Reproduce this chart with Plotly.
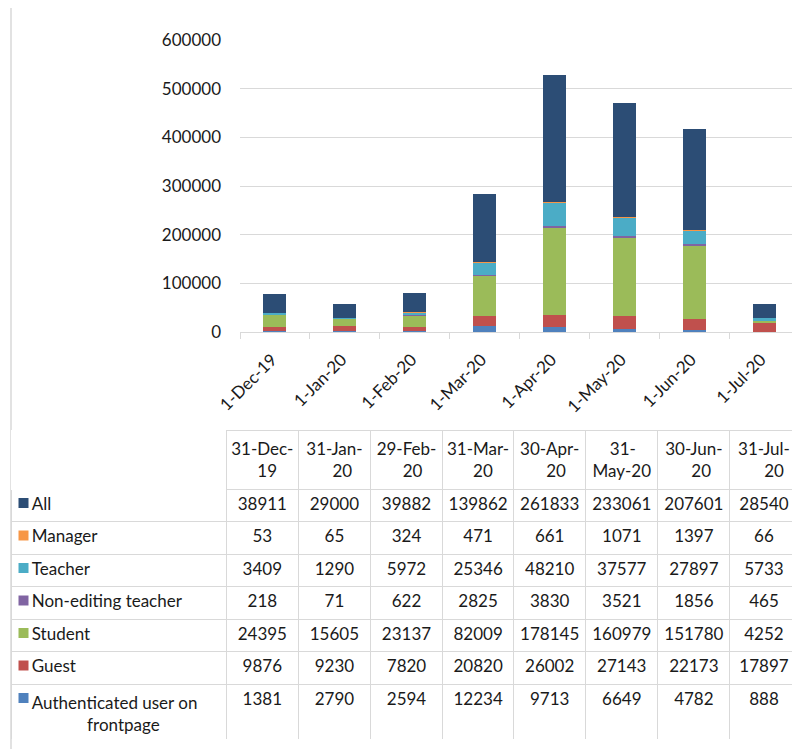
import plotly.graph_objects as go

# axis categories (month starts) and table column headers (month ends)
months = ["1-Dec-19", "1-Jan-20", "1-Feb-20", "1-Mar-20",
          "1-Apr-20", "1-May-20", "1-Jun-20", "1-Jul-20"]
period_ends = ["31-Dec-<br>19", "31-Jan-<br>20", "29-Feb-<br>20", "31-Mar-<br>20",
               "30-Apr-<br>20", "31-<br>May-20", "30-Jun-<br>20", "31-Jul-<br>20"]

# series, bottom of the stack first
authenticated = [1381, 2790, 2594, 12234, 9713, 6649, 4782, 888]
guest = [9876, 9230, 7820, 20820, 26002, 27143, 22173, 17897]
student = [24395, 15605, 23137, 82009, 178145, 160979, 151780, 4252]
non_editing = [218, 71, 622, 2825, 3830, 3521, 1856, 465]
teacher = [3409, 1290, 5972, 25346, 48210, 37577, 27897, 5733]
manager = [53, 65, 324, 471, 661, 1071, 1397, 66]
all_users = [38911, 29000, 39882, 139862, 261833, 233061, 207601, 28540]

stack = [
    ("Authenticated user on frontpage", authenticated, "#4F81BD"),
    ("Guest", guest, "#C0504D"),
    ("Student", student, "#9BBB59"),
    ("Non-editing teacher", non_editing, "#8064A2"),
    ("Teacher", teacher, "#4BACC6"),
    ("Manager", manager, "#F79646"),
    ("All", all_users, "#2C4D75"),
]

# the page body has an 8px margin, so the figure is drawn 8px smaller
# and positions below are given in window pixels
PAGE_W, PAGE_H, BODY = 800, 749, 8
W, H = PAGE_W - BODY, PAGE_H - BODY


def px(x):
    return (x - BODY) / W


def py(y):
    return (PAGE_H - y) / H


FONT = "Lato, 'Open Sans', sans-serif"
GRID = "#d9d9d9"
TXT = "#1a1a1a"
NB = "\u00a0"
EM = "\u2003"


def centre_lines(label):
    # table lines are left aligned inside the block; pad the shorter one
    a, b = label.split("<br>")
    pad = NB * round(abs(len(a) - len(b)) * 1.25)
    return a + "<br>" + pad + b if len(a) > len(b) else pad + a + "<br>" + b


fig = go.Figure()

for name, vals, color in stack:
    fig.add_trace(go.Bar(
        x=months, y=vals, name=name,
        marker=dict(color=color, line=dict(width=0)),
        showlegend=False,
    ))

# data table, rows top to bottom as in the chart
rows = list(reversed(stack))
row_labels = []
for name, _, _ in rows:
    if name.startswith("Authenticated"):
        row_labels.append("Authenticated user on<br>" + EM * 5 + NB + "frontpage")
    else:
        # no plain spaces, so the table keeps the row at its set height
        row_labels.append(name.replace(" ", NB))

columns = [row_labels] + [[r[1][i] for r in rows] for i in range(len(months))]

TABLE_TOP, TABLE_BOTTOM = 430, 739
HEADER_H, ROW_H = 57, 32.5

fig.add_trace(go.Table(
    domain=dict(x=[px(11), px(798)], y=[py(TABLE_BOTTOM), py(TABLE_TOP)]),
    columnwidth=[215, 72, 72, 72, 71, 72, 72, 72, 68],
    header=dict(
        values=[""] + [centre_lines(p) for p in period_ends],
        align="center",
        height=HEADER_H,
        fill=dict(color="rgba(0,0,0,0)"),
        line=dict(color=["white"] + [GRID] * len(months), width=1),
        font=dict(family=FONT, size=17, color=TXT),
    ),
    cells=dict(
        values=columns,
        prefix=[EM] + [""] * len(months),
        align=["left"] + ["center"] * len(months),
        height=ROW_H,
        fill=dict(color="rgba(0,0,0,0)"),
        line=dict(color=GRID, width=1),
        font=dict(family=FONT, size=17, color=TXT),
    ),
))

# legend keys beside the row names, on an axis laid over the table
row_tops = [TABLE_TOP + HEADER_H + ROW_H * i for i in range(len(rows))]
fig.add_trace(go.Scatter(
    x=[23.5] * len(rows),
    y=[t + 16 for t in row_tops],
    xaxis="x2", yaxis="y2",
    mode="markers",
    marker=dict(symbol="square", size=10, color=[c for _, _, c in rows]),
    showlegend=False, hoverinfo="skip",
))

fig.update_layout(
    width=W, height=H,
    margin=dict(l=0, r=0, t=0, b=0),
    barmode="stack",
    bargap=0.67,
    plot_bgcolor="rgba(0,0,0,0)",
    paper_bgcolor="white",
    font=dict(family=FONT, size=17, color=TXT),
    xaxis=dict(
        domain=[px(240), px(799)],
        type="category",
        automargin=False,
        tickangle=-45,
        ticks="outside", tickson="boundaries", ticklen=6, tickcolor=GRID,
        showline=True, linecolor=GRID, linewidth=1,
        showgrid=False,
        ticklabelshift=-3, ticklabelstandoff=10,
        tickfont=dict(family=FONT, size=17, color=TXT),
    ),
    yaxis=dict(
        domain=[py(332), py(40)],
        range=[0, 600000],
        automargin=False,
        dtick=100000,
        showgrid=True, gridcolor=GRID, gridwidth=1,
        zeroline=False,
        ticks="", ticklabelstandoff=18,
        tickformat="d",
        tickfont=dict(family=FONT, size=17, color=TXT),
    ),
    xaxis2=dict(domain=[px(11), px(798)], range=[11, 798], anchor="y2",
                visible=False, automargin=False),
    yaxis2=dict(domain=[py(TABLE_BOTTOM), py(TABLE_TOP)],
                range=[TABLE_BOTTOM, TABLE_TOP], anchor="x2",
                visible=False, automargin=False),
    shapes=[dict(
        type="rect", xref="paper", yref="paper",
        x0=px(11), x1=px(799), y0=-0.02, y1=py(7),
        line=dict(color=GRID, width=1.5), layer="below",
    )],
)

fig.write_html("out.html")
